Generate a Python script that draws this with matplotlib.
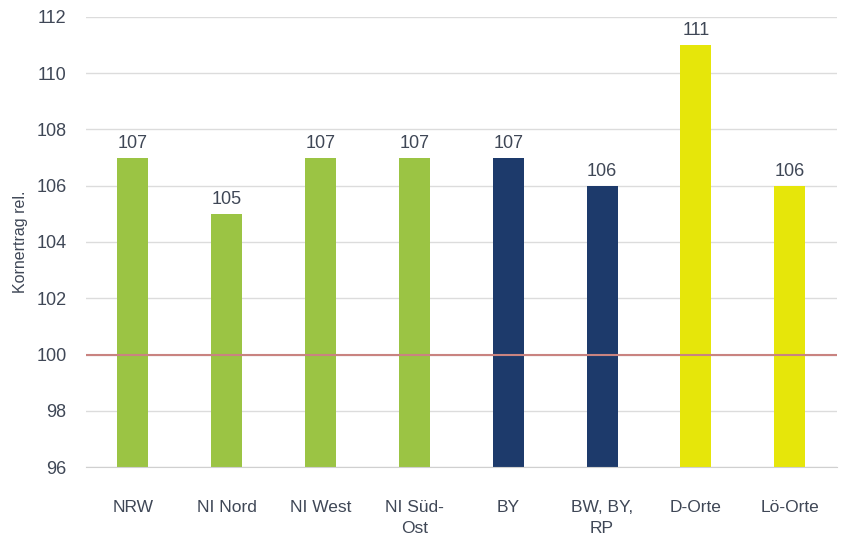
import matplotlib.pyplot as plt

plt.rcParams['font.family'] = ['Liberation Sans', 'DejaVu Sans']

# Kornertrag relativ je Region
regionen = ['NRW', 'NI Nord', 'NI West', 'NI Süd-\nOst', 'BY', 'BW, BY,\nRP', 'D-Orte', 'Lö-Orte']
werte = [107, 105, 107, 107, 107, 106, 111, 106]
farben = ['#9bc444', '#9bc444', '#9bc444', '#9bc444', '#1d3a6b', '#1d3a6b', '#e6e60a', '#e6e60a']
basis = 96
referenz = 100

txt = '#3f4756'

fig = plt.figure(figsize=(8.46, 5.44), dpi=100)
ax = fig.add_axes([0.1017, 0.1415, 0.8873, 0.8273])

x = range(len(regionen))
hoehen = [w - basis for w in werte]
ax.bar(x, hoehen, bottom=basis, width=0.33, color=farben, zorder=2)

for i, w in enumerate(werte):
    ax.text(i, w + 0.2, str(w), ha='center', va='bottom', fontsize=13, color=txt)

ax.axhline(referenz, color='#c98380', lw=1.5, zorder=3)

ax.set_ylim(96, 112)
ax.set_xlim(-0.5, 7.5)
ax.set_yticks(range(96, 113, 2))
ax.set_xticks(list(x))
ax.set_xticklabels(regionen, fontsize=12.5, color=txt, linespacing=1.5)
ax.tick_params(axis='y', labelsize=13, colors=txt, length=0, pad=14)
ax.tick_params(axis='x', length=0, pad=24)
ax.grid(axis='y', color='#dcdcdc', lw=1, zorder=0)
ax.set_ylabel('Kornertrag rel.', fontsize=11.5, color=txt, labelpad=6)

for s in ['top', 'right', 'left']:
    ax.spines[s].set_visible(False)
ax.spines['bottom'].set_color('#d0d0d0')

fig.savefig('out.png', dpi=100)
